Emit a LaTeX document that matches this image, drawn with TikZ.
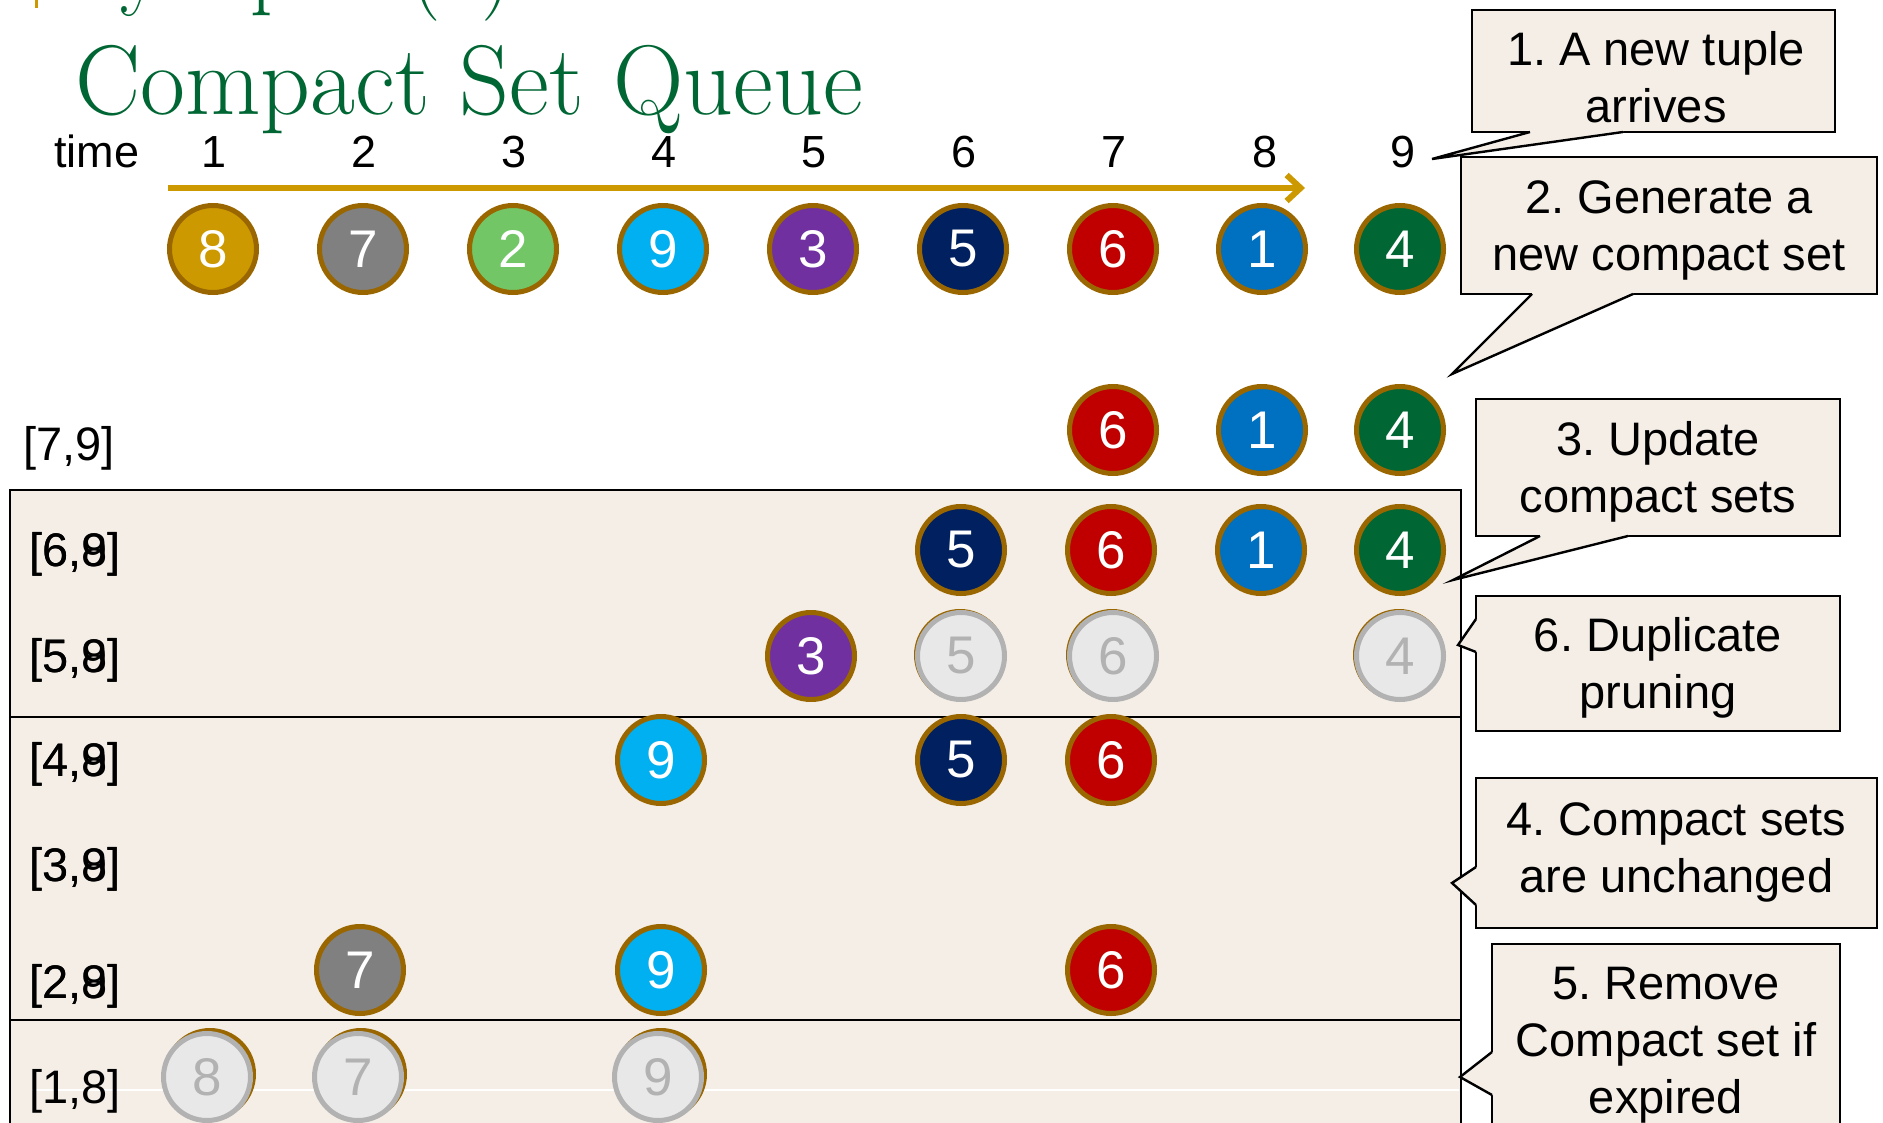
\documentclass[tikz,border=0pt]{standalone}
\usepackage{fontspec}
\setsansfont{Liberation Sans}
\usetikzlibrary{arrows.meta}
\frenchspacing

\definecolor{titlegreen}{RGB}{0,102,51}
\definecolor{axisgold}{RGB}{204,153,0}
\definecolor{rimgold}{RGB}{153,102,0}
\definecolor{boxbeige}{RGB}{244,238,230}
\definecolor{dupline}{RGB}{178,178,178}
\definecolor{dupfill}{RGB}{232,232,232}
\definecolor{tgold}{RGB}{204,153,0}
\definecolor{tgrey}{RGB}{128,128,128}
\definecolor{tlime}{RGB}{114,198,102}
\definecolor{tcyan}{RGB}{0,176,240}
\definecolor{tpurple}{RGB}{112,48,160}
\definecolor{tnavy}{RGB}{0,32,96}
\definecolor{tred}{RGB}{192,0,0}
\definecolor{tblue}{RGB}{0,112,192}
\definecolor{tgreen}{RGB}{0,102,51}

\begin{document}
\begin{tikzpicture}[x=0.5pt, y=-0.5pt,
  every node/.style={font=\sffamily\fontsize{22.5}{27}\selectfont},
  tuple/.style={circle, draw=rimgold, line width=2.5pt, minimum size=43.5pt,
    inner sep=0pt, text=white, font=\sffamily\fontsize{26.5}{30}\selectfont},
  pruned/.style={tuple, draw=dupline, fill=dupfill, text=dupline},
  ghost/.style={circle, fill=rimgold, minimum size=46pt, inner sep=0pt},
  setlabel/.style={anchor=base west, inner sep=0pt,
    font=\sffamily\fontsize{23.5}{27}\selectfont},
  rowbox/.style={fill=boxbeige, draw=black, line width=1.2pt},
  bubble/.style={draw=black, fill=boxbeige, line width=1.2pt, inner sep=0pt},
  bubbletext/.style={align=center, inner sep=0pt,
    font=\sffamily\fontsize{23.5}{28.5}\selectfont},
  pointer/.style={draw=black, line width=1.2pt},
  timeaxis/.style={draw=axisgold, line width=3pt,
    -{Straight Barb[length=7pt,width=13pt]}}]

  \useasboundingbox (0,0) rectangle (1883,1123);
  \clip (0,0) rectangle (1883,1123);

  % --- 1. title (the line above is cut off) ---
  \fill[axisgold] (35,-4) rectangle (38,8);
  \node[anchor=base west, inner sep=0pt, text=titlegreen,
    font=\rmfamily\fontsize{49.5}{56}\selectfont] (prevtitle) at (75,-3)
    {\scalebox{0.9}[1]{Synopsis (2)}};
  \node[anchor=base west, inner sep=0pt, text=titlegreen,
    font=\rmfamily\fontsize{49.5}{56}\selectfont] (title) at (75,115)
    {\scalebox{0.987}[1]{Compact Set Queue}};

  % --- 2. time axis ---
  \node[anchor=base west, inner sep=0pt] (timelbl) at (54,168) {time};
  \foreach \t/\x in {1/214,2/364,3/514,4/664,5/814,6/964,7/1114,8/1265,9/1403}
    \node[anchor=base, inner sep=0pt] (t\t) at (\x,168) {\t};
  \coordinate (axstart) at (168,188);
  \coordinate (axend) at (1305,188);
  \draw[timeaxis] (axstart) -- (axend);

  % --- 3. arriving tuples ---
  \foreach \v/\col/\x in {8/tgold/213,7/tgrey/363,2/tlime/513,9/tcyan/663,
      3/tpurple/813,5/tnavy/963,6/tred/1113,1/tblue/1262,4/tgreen/1400}
    \node[tuple, fill=\col] (in\v) at (\x,249) {\v};

  % --- 4. compact sets ---
  \filldraw[rowbox] (10,490) rectangle (1461,717);
  \filldraw[rowbox] (10,717) rectangle (1461,1020);
  \filldraw[rowbox] (10,1020) rectangle (1461,1160);
  \draw[white, line width=0.6pt] (32,1090) -- (1459,1090);

  % labels: old and new right ends print over each other
  \node[setlabel] (set7) at (23,460) {[7,9]};
  \foreach \k/\yb in {6/566,5/672,4/776,3/881,2/998} {
    \node[setlabel] (set\k-8) at (29,\yb) {[\k,8]};
    \node[setlabel] (set\k-9) at (29,\yb) {[\k,9]};
  }
  \node[setlabel] (set1) at (29,1103) {[1,8]};

  % [7,9]
  \foreach \v/\col/\x in {6/tred/1113,1/tblue/1262,4/tgreen/1400}
    \node[tuple, fill=\col] (s7-\v) at (\x,430) {\v};
  % [6,9]
  \foreach \v/\col/\x in {5/tnavy/961,6/tred/1111,1/tblue/1261,4/tgreen/1400}
    \node[tuple, fill=\col] (s6-\v) at (\x,550) {\v};
  % [5,9]
  \node[tuple, fill=tpurple] (s5-3) at (811,656) {3};
  \foreach \v/\x in {5/961,6/1113,4/1400} {
    \node[ghost] (g5-\v) at (\x-1,655) {};
    \node[pruned] (s5-\v) at (\x,656) {\v};
  }
  % [4,9]
  \foreach \v/\col/\x in {9/tcyan/661,5/tnavy/961,6/tred/1111}
    \node[tuple, fill=\col] (s4-\v) at (\x,760) {\v};
  % [2,9]
  \foreach \v/\col/\x in {7/tgrey/360,9/tcyan/661,6/tred/1111}
    \node[tuple, fill=\col] (s2-\v) at (\x,970) {\v};
  % [1,8] expired
  \foreach \v/\x in {8/207,7/358,9/658} {
    \node[ghost] (g1-\v) at (\x+3,1074) {};
    \node[pruned] (s1-\v) at (\x,1077) {\v};
  }

  % --- 5. callouts ---
  \node[bubble, minimum width=181.5pt, minimum height=61pt] (note1) at (1653.5,71) {};
  \fill[boxbeige] (1530,128) -- (1530,132) -- (1432,159) -- (1623,132) -- (1623,128) -- cycle;
  \draw[pointer] (1530,132) -- (1432,159) -- (1623,132);
  \node[bubbletext] (note1txt) at (1656,77) {1. A new tuple\\arrives};

  \node[bubble, minimum width=208pt, minimum height=68.5pt] (note2) at (1669,225.5) {};
  \fill[boxbeige] (1532,290) -- (1532,294) -- (1452,374) -- (1633,294) -- (1633,290) -- cycle;
  \draw[pointer] (1532,294) -- (1452,374) -- (1633,294);
  \node[bubbletext] (note2txt) at (1669,230) {2. Generate a\\new compact set};

  \node[bubble, minimum width=182pt, minimum height=68.5pt] (note3) at (1658,467.5) {};
  \fill[boxbeige] (1540,532) -- (1540,536) -- (1453,580) -- (1628,536) -- (1628,532) -- cycle;
  \draw[pointer] (1540,536) -- (1453,580) -- (1628,536);
  \node[bubbletext] (note3txt) at (1658,472) {3. Update\\compact sets};

  \node[bubble, minimum width=182pt, minimum height=67.5pt] (note6) at (1658,663.5) {};
  \fill[boxbeige] (1480,619) -- (1476,619) -- (1458,645) -- (1476,652) -- (1480,652) -- cycle;
  \draw[pointer] (1476,619) -- (1458,645) -- (1476,652);
  \node[bubbletext] (note6txt) at (1658,668) {6. Duplicate\\pruning};

  \node[bubble, minimum width=200.5pt, minimum height=75pt] (note4) at (1676.5,853) {};
  \fill[boxbeige] (1480,867) -- (1476,867) -- (1452,883) -- (1476,905) -- (1480,905) -- cycle;
  \draw[pointer] (1476,867) -- (1452,883) -- (1476,905);
  \node[bubbletext] (note4txt) at (1676.5,852) {4. Compact sets\\are unchanged};

  \node[bubble, minimum width=174pt, minimum height=96pt] (note5) at (1666,1040) {};
  \fill[boxbeige] (1496,1052) -- (1492,1052) -- (1460,1077) -- (1492,1095) -- (1496,1095) -- cycle;
  \draw[pointer] (1492,1052) -- (1460,1077) -- (1492,1095);
  \node[bubbletext] (note5txt) at (1666,1045) {5. Remove\\Compact set if\\expired};

\end{tikzpicture}
\end{document}
